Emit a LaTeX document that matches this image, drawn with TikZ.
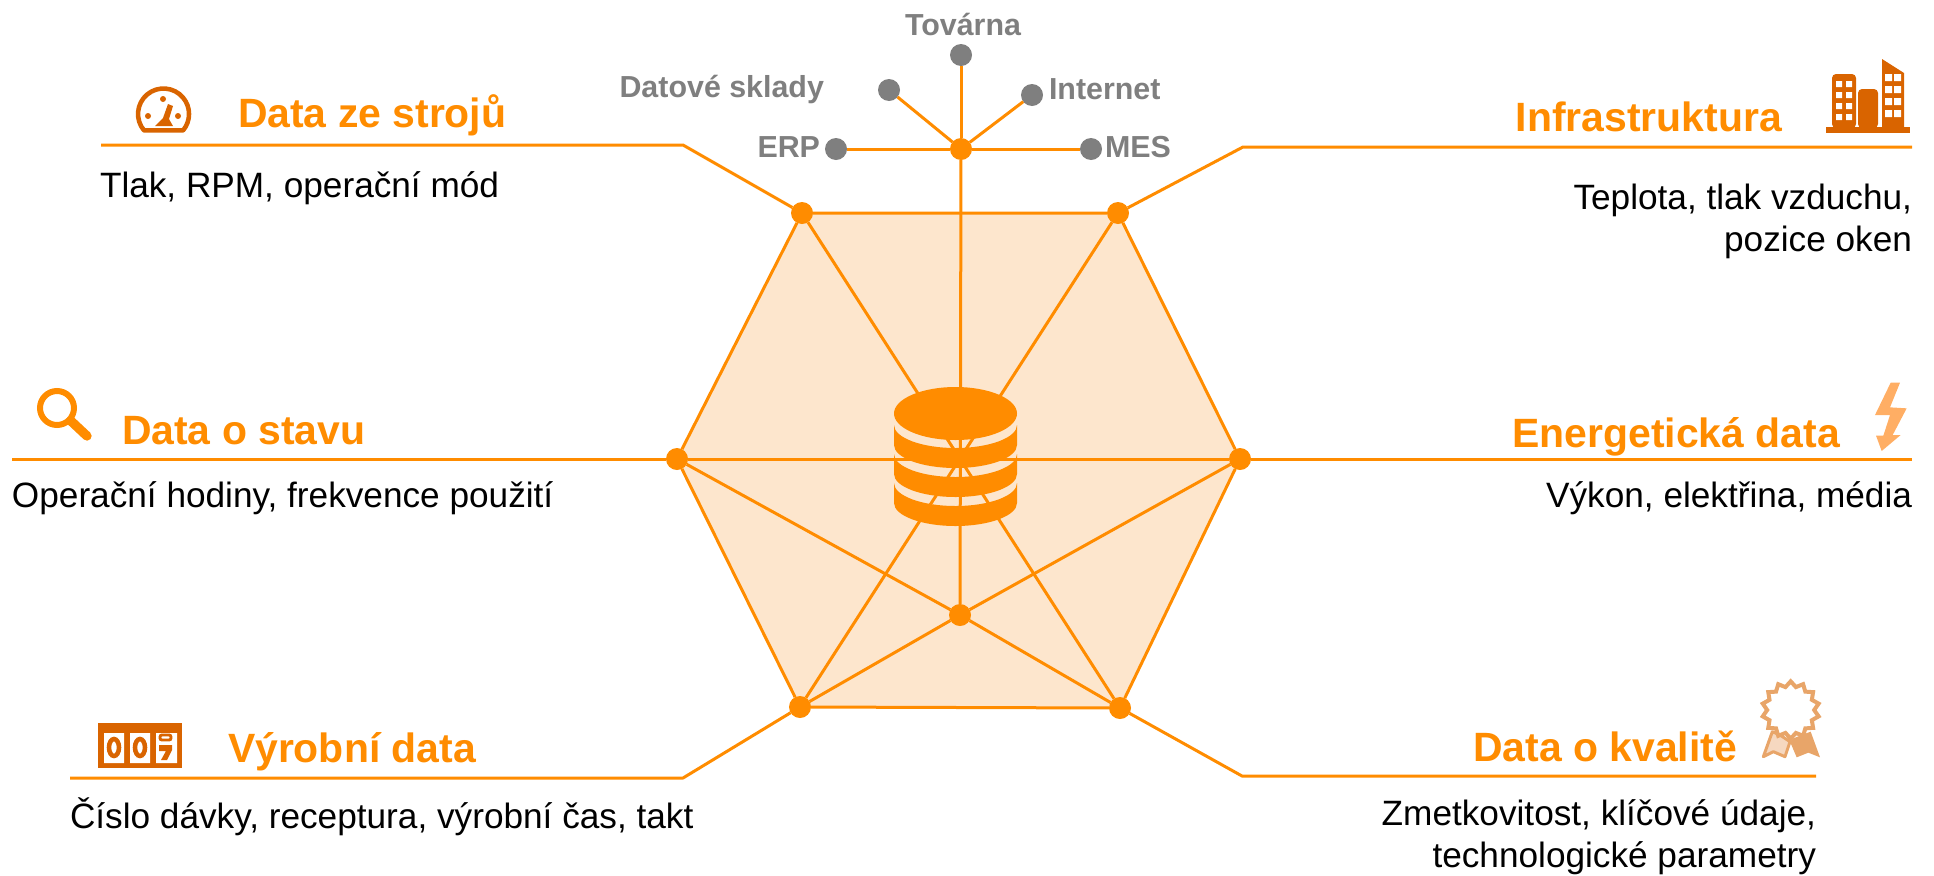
\documentclass[tikz,border=0pt]{standalone}
\usepackage{fontspec}
\setmainfont{Liberation Sans}
\usetikzlibrary{shapes.geometric}
\definecolor{hexorange}{RGB}{255,140,0}
\definecolor{hexfill}{RGB}{253,230,205}
\definecolor{icondark}{RGB}{217,100,0}
\definecolor{iconbolt}{RGB}{255,174,100}
\definecolor{iconpale}{RGB}{232,165,105}
\definecolor{ribbonpale}{RGB}{246,216,192}
\definecolor{labelgray}{RGB}{127,127,127}

\begin{document}
\begin{tikzpicture}[
	x=.75pt, y=-.75pt,
	every node/.style={inner sep=0pt, outer sep=0pt},
	dot/.style = {fill=hexorange,circle,minimum size=16.5pt},
	graydot/.style = {fill=labelgray,circle,minimum size=16.5pt},
	lead/.style = {draw=hexorange,line width=2.25pt,line join=round},
	head/.style = {text=hexorange,font=\fontsize{30.7}{36}\selectfont\bfseries},
	body/.style = {text=black,font=\fontsize{26.4}{31.5}\selectfont},
	source/.style = {text=labelgray,font=\fontsize{22.8}{27}\selectfont\bfseries}
	]
	\useasboundingbox (0,0) rectangle (1934,875);

	% hexagon corners
	\coordinate (@tl) at (802,213);
	\coordinate (@tr) at (1118,213);
	\coordinate (@rr) at (1240,459);
	\coordinate (@br) at (1120,708);
	\coordinate (@bl) at (800,707);
	\coordinate (@ll) at (677,459);

	\fill[hexfill] (@tl) -- (@tr) -- (@rr) -- (@br) -- (@bl) -- (@ll) -- cycle;

	\node[dot] (tl) at (@tl) {};
	\node[dot] (tr) at (@tr) {};
	\node[dot] (rr) at (@rr) {};
	\node[dot] (br) at (@br) {};
	\node[dot] (bl) at (@bl) {};
	\node[dot] (ll) at (@ll) {};
	\node[dot] (in) at (960,615) {};
	\node[dot] (hub) at (961,149) {};

	% sources on top
	\node[graydot] (fab) at (961,55) {};
	\node[graydot] (dwh) at (889,90) {};
	\node[graydot] (net) at (1032,95) {};
	\node[graydot] (erp) at (836,149) {};
	\node[graydot] (mes) at (1091,149) {};

	\draw[lead] (hub) -- (fab);
	\draw[lead] (hub) -- (dwh);
	\draw[lead] (hub) -- (net);
	\draw[lead] (hub) -- (erp);
	\draw[lead] (hub) -- (mes);
	\draw[lead] (hub) -- (in);

	\draw[lead] (tl) -- (tr) -- (rr) -- (br) -- (bl) -- (ll) -- (tl);
	\draw[lead] (ll) -- (rr);
	\draw[lead] (tl) -- (br);
	\draw[lead] (tr) -- (bl);
	\draw[lead] (in) -- (ll);
	\draw[lead] (in) -- (rr);
	\draw[lead] (in) -- (bl);
	\draw[lead] (in) -- (br);

	% database
	\fill[hexorange] (955.5,413.5) ellipse [x radius=61.5,y radius=26.5];
	\foreach \y in {425,454,483}
		\fill[hexorange] (894,\y) arc[start angle=180,end angle=0,x radius=61.5,y radius=23] -- ++(0,20) arc[start angle=0,end angle=180,x radius=61.5,y radius=23] -- cycle;

	% leader lines
	\coordinate (@1) at (683,145);
	\coordinate (@2) at (101,145);
	\coordinate (@3) at (1243,147);
	\coordinate (@4) at (1912,147);
	\coordinate (@5) at (12,459);
	\coordinate (@6) at (1912,459);
	\coordinate (@7) at (683,778);
	\coordinate (@8) at (70,778);
	\coordinate (@9) at (1242,776);
	\coordinate (@10) at (1816,776);

	\draw[lead] (tl) -- (@1) -- (@2);
	\draw[lead] (tr) -- (@3) -- (@4);
	\draw[lead] (ll) -- (@5);
	\draw[lead] (rr) -- (@6);
	\draw[lead] (bl) -- (@7) -- (@8);
	\draw[lead] (br) -- (@9) -- (@10);

	% source labels
	\node[source,anchor=base] (fablabel) at (963,35) {Továrna};
	\node[source,anchor=base east] (dwhlabel) at (824,97) {Datové sklady};
	\node[source,anchor=base west] (netlabel) at (1049,99) {Internet};
	\node[source,anchor=base east] (erplabel) at (820,157) {ERP};
	\node[source,anchor=base west] (meslabel) at (1105,157) {MES};

	% headings and texts
	\node[head,anchor=base west] (machine) at (238,127) {Data ze strojů};
	\node[body,anchor=base west] (machinetext) at (100,197) {Tlak, RPM, operační mód};
	\node[head,anchor=base east] (infra) at (1782,131) {Infrastruktura};
	\node[body,anchor=base east,align=right] (infratext) at (1912,251) {Teplota, tlak vzduchu,\\pozice oken};
	\node[head,anchor=base west] (state) at (122,444) {Data o stavu};
	\node[body,anchor=base west] (statetext) at (12,507) {Operační hodiny, frekvence použití};
	\node[head,anchor=base east] (energy) at (1840,447) {Energetická data};
	\node[body,anchor=base east] (energytext) at (1912,507) {Výkon, elektřina, média};
	\node[head,anchor=base west] (prod) at (228,762) {Výrobní data};
	\node[body,anchor=base west] (prodtext) at (70,828) {Číslo dávky, receptura, výrobní čas, takt};
	\node[head,anchor=base east] (quality) at (1737,761) {Data o kvalitě};
	\node[body,anchor=base east,align=right] (qualitytext) at (1816,867) {Zmetkovitost, klíčové údaje,\\technologické parametry};

	% gauge
	\draw[icondark,line width=3.4pt,line join=round] (144,130.4) arc[start angle=140,end angle=400,radius=25.5] -- cycle;
	\fill[icondark] (148,116) circle (3) (163,99) circle (3) (178,116) circle (3);
	\fill[icondark] (168,104) -- (173,106) -- (169,119) -- (173,126) -- (155,126) -- (163,118) -- cycle;

	% magnifier
	\draw[hexorange,line width=4.5pt] (57,408) circle (17);
	\draw[hexorange,line width=7pt,line cap=round] (71,421) -- (87,436);

	% counter
	\fill[icondark] (98,723) rectangle (182,768);
	\fill[white] (104,733) rectangle (124,763) (130,733) rectangle (150,763) (156,733) rectangle (177,763);
	\foreach \x in {114,140}
		\draw[icondark,line width=3.4pt] (\x,747.5) ellipse [x radius=5,y radius=8.5];
	\draw[icondark,line width=2.2pt,rounded corners=1.5pt] (160,735) rectangle (171,740);
	\fill[icondark] (159,745) -- (172,745) -- (172,750) -- (167,760) -- (161,760) -- (166,751) -- (159,751) -- cycle;

	% buildings
	\fill[icondark] (1826,127) rectangle (1910,133);
	\fill[icondark,rounded corners=3pt] (1832,128) -- (1832,74) -- (1856,74) -- (1856,128) -- cycle;
	\fill[icondark,rounded corners=3pt] (1858,128) -- (1858,89) -- (1878,89) -- (1878,128) -- cycle;
	\fill[icondark] (1882,127) -- (1882,59) -- (1904,73) -- (1904,127) -- cycle;
	\foreach \y in {81,92,103,114}
		\fill[white] (1836,\y) rectangle ++(6,6) (1846,\y) rectangle ++(6,6);
	\foreach \y in {74,86,98,110}
		\fill[white] (1885,\y) rectangle ++(7,7) (1894,\y) rectangle ++(7,7);

	% bolt
	\fill[iconbolt,shift={(1840,370)},scale=1/3] (152,38) -- (180,38) -- (150,112) -- (200,115) -- (158,195) -- (182,195) -- (125,243) -- (108,197) -- (130,197) -- (150,135) -- (105,135) -- cycle;

	% rosette
	\begin{scope}[shift={(1740,670)},scale=1/3]
		\fill[ribbonpale,draw=iconpale,line width=2.25pt,line join=round] (97,185) -- (70,260) -- (100,245) -- (135,260) -- (150,215) -- (120,195) -- cycle;
		\fill[iconpale] (160,205) -- (185,195) -- (212,185) -- (240,262) -- (205,248) -- (170,262) -- (150,215) -- cycle;
		\node[star,star points=14,star point ratio=1.22,draw=iconpale,fill=white,line width=3pt,minimum size=43pt] (seal) at (152,120) {};
	\end{scope}
\end{tikzpicture}
\end{document}
